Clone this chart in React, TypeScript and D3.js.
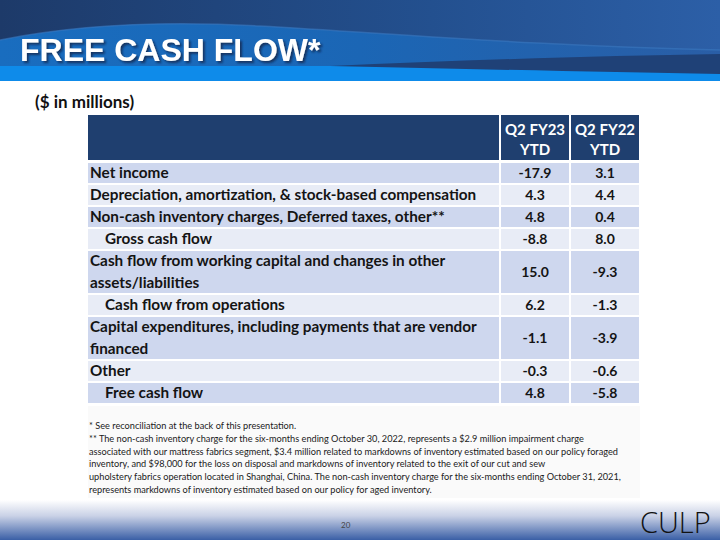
import React from "react";
import * as d3 from "d3";

const rowLabels: string[][] = [
  ["Net income"],
  ["Depreciation, amortization, & stock-based compensation"],
  ["Non-cash inventory charges, Deferred taxes, other**"],
  ["Gross cash flow"],
  ["Cash flow from working capital and changes in other", "assets/liabilities"],
  ["Cash flow from operations"],
  ["Capital expenditures, including payments that are vendor", "financed"],
  ["Other"],
  ["Free cash flow"],
];
const rowIndent = [false, false, false, true, false, true, false, false, true];
const valuesFY23 = [-17.9, 4.3, 4.8, -8.8, 15.0, 6.2, -1.1, -0.3, 4.8];
const valuesFY22 = [3.1, 4.4, 0.4, 8.0, -9.3, -1.3, -3.9, -0.6, -5.8];
const columnHeaders: string[][] = [
  ["Q2 FY23", "YTD"],
  ["Q2 FY22", "YTD"],
];
const footnotes = [
  "* See reconciliation at the back of this presentation.",
  "** The non-cash inventory charge for the six-months ending October 30, 2022, represents a $2.9 million impairment charge",
  "associated with our mattress fabrics segment, $3.4 million related to markdowns of inventory estimated based on our policy foraged",
  "inventory, and $98,000 for the loss on disposal and markdowns of inventory related to the exit of our cut and sew",
  "upholstery fabrics operation located in Shanghai, China.  The non-cash inventory charge for the six-months ending October 31, 2021,",
  "represents markdowns of inventory estimated based on our policy for aged inventory.",
];
const title = "FREE CASH FLOW*";
const subtitle = "($ in millions)";
const pageNumber = "20";
const logoText = "CULP";

const fmt = d3
  .formatLocale({ decimal: ".", thousands: ",", grouping: [3], currency: ["$", ""], minus: "-" })
  .format(".1f");

export default function App() {
  const tableLeft = 88;
  const colEdges = [88, 500, 570, 640];
  const headerTop = 115;
  const headerBottom = 160;
  const bodyTop = 162;
  const bodyBottom = 404;

  const lineCounts = rowLabels.map((l) => l.length);
  const totalUnits = d3.sum(lineCounts);
  const starts = [0, ...Array.from(d3.cumsum(lineCounts))];
  const y = d3.scaleLinear().domain([0, totalUnits]).range([bodyTop, bodyBottom]);
  const unitH = y(1) - y(0);

  const font = "Lato, 'Open Sans', sans-serif";
  const rowFill = (i: number) => (i % 2 === 0 ? "#CED7EE" : "#E8ECF6");

  return (
    <svg
      width={720}
      height={540}
      style={{ position: "absolute", left: 0, top: 0, display: "block" }}
    >
      <defs>
        <linearGradient id="bannerBg" x1="0" y1="0" x2="1" y2="0">
          <stop offset="0" stopColor="#1D3A69" />
          <stop offset="0.6" stopColor="#23508F" />
          <stop offset="1" stopColor="#2C5FA7" />
        </linearGradient>
        <linearGradient id="bulge" x1="0" y1="0" x2="1" y2="0">
          <stop offset="0" stopColor="#196DBF" />
          <stop offset="0.5" stopColor="#1B66B5" />
          <stop offset="1" stopColor="#2A5EA6" />
        </linearGradient>
        <linearGradient id="footerGrad" x1="0" y1="0" x2="0" y2="1">
          <stop offset="0" stopColor="#FFFFFF" />
          <stop offset="0.4" stopColor="#C9D1E6" />
          <stop offset="1" stopColor="#3A5FA6" />
        </linearGradient>
        <filter id="titleShadow" x="-5%" y="-20%" width="110%" height="150%">
          <feDropShadow dx="2" dy="2" stdDeviation="0.8" floodColor="#0B1E3A" floodOpacity="0.7" />
        </filter>
      </defs>

      <rect x={0} y={0} width={720} height={540} fill="#FFFFFF" />

      {/* banner */}
      <rect x={0} y={0} width={720} height={82} fill="#0E8BEA" />
      <rect x={0} y={0} width={720} height={66} fill="url(#bannerBg)" />
      <path
        d="M0,66 V40 C70,26 150,20 260,26 C400,34 540,46 720,50 V66 Z"
        fill="url(#bulge)"
      />
      <path
        d="M0,40 C70,26 150,20 260,26 C400,34 540,46 720,50"
        fill="none"
        stroke="#3B78C0"
        strokeWidth={1.5}
        opacity={0.6}
      />
      <path
        d="M330,66 C460,60 600,56 720,54 V74 C600,72 470,69 330,66 Z"
        fill="#1F4177"
      />
      <rect x={0} y={81} width={720} height={2} fill="#FFFFFF" />
      <text
        x={20}
        y={61}
        fontFamily="'Liberation Sans', Arial, sans-serif"
        fontWeight="bold"
        fontSize={32}
        fill="#FFFFFF"
        filter="url(#titleShadow)"
      >
        {title}
      </text>

      <text x={35} y={108} fontFamily={font} fontWeight="bold" fontSize={17} fill="#111">
        {subtitle}
      </text>

      {/* header row */}
      {colEdges.slice(0, -1).map((x0, c) => (
        <rect
          key={"h" + c}
          x={x0 + (c === 0 ? 0 : 1)}
          y={headerTop}
          width={colEdges[c + 1] - x0 - (c === 0 ? 1 : 2)}
          height={headerBottom - headerTop}
          fill="#1F3F6F"
        />
      ))}
      {columnHeaders.map((lines, c) =>
        lines.map((t, k) => (
          <text
            key={"ht" + c + k}
            x={(colEdges[c + 1] + colEdges[c + 2]) / 2}
            y={headerTop + 20 + k * 20}
            textAnchor="middle"
            fontFamily={font}
            fontWeight="bold"
            fontSize={15}
            fill="#FFFFFF"
          >
            {t}
          </text>
        ))
      )}

      {/* body */}
      {rowLabels.map((lines, i) => {
        const y0 = y(starts[i]);
        const y1 = y(starts[i + 1]);
        const cy = (y0 + y1) / 2;
        return (
          <g key={"r" + i}>
            {colEdges.slice(0, -1).map((x0, c) => (
              <rect
                key={c}
                x={x0 + (c === 0 ? 0 : 1)}
                y={y0 + 1}
                width={colEdges[c + 1] - x0 - (c === 0 ? 1 : 2)}
                height={y1 - y0 - 2}
                fill={rowFill(i)}
              />
            ))}
            {lines.map((t, k) => (
              <text
                key={"l" + k}
                x={tableLeft + (rowIndent[i] ? 17 : 2)}
                y={y0 + unitH * k + unitH / 2 + 5}
                fontFamily={font}
                fontWeight="bold"
                fontSize={15.3}
                fill="#141414"
              >
                {t}
              </text>
            ))}
            <text
              x={(colEdges[1] + colEdges[2]) / 2}
              y={cy + 5}
              textAnchor="middle"
              fontFamily={font}
              fontWeight="bold"
              fontSize={14}
              fill="#141414"
            >
              {fmt(valuesFY23[i])}
            </text>
            <text
              x={(colEdges[2] + colEdges[3]) / 2}
              y={cy + 5}
              textAnchor="middle"
              fontFamily={font}
              fontWeight="bold"
              fontSize={14}
              fill="#141414"
            >
              {fmt(valuesFY22[i])}
            </text>
          </g>
        );
      })}

      {/* footnote box */}
      <rect x={88} y={406} width={552} height={92} fill="#FAFAFA" />
      {footnotes.map((t, i) => (
        <text
          key={"f" + i}
          x={89}
          y={429 + i * 12.8}
          fontFamily={font}
          fontSize={9.2}
          fill="#1A1A1A"
        >
          {t}
        </text>
      ))}

      {/* footer */}
      <rect x={0} y={500} width={720} height={40} fill="url(#footerGrad)" />
      <text x={341} y={528} fontFamily={font} fontSize={8} fill="#444">
        {pageNumber}
      </text>
      <text
        x={640}
        y={533}
        fontFamily="'Open Sans', sans-serif"
        fontWeight={300}
        fontSize={29}
        fill="#111"
      >
        {logoText}
      </text>
    </svg>
  );
}
